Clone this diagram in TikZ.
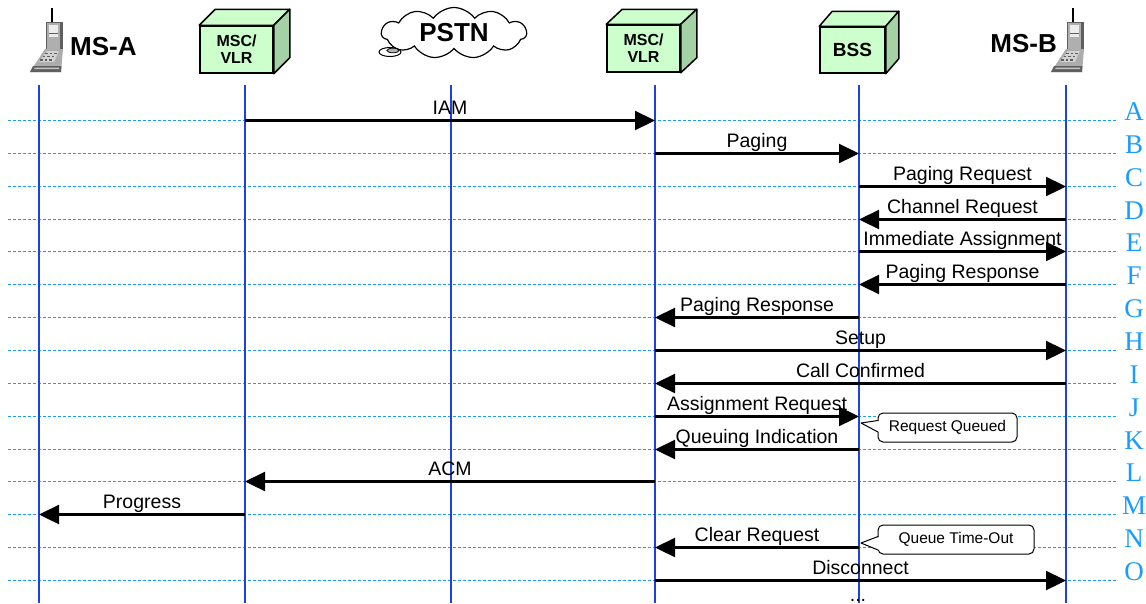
\documentclass[tikz,border=0pt]{standalone}
\usepackage{fontspec}
\setmainfont{Liberation Sans}
\newfontfamily\rowfont{Liberation Serif}
\usetikzlibrary{arrows.meta,shapes.symbols,calc}
\definecolor{lifeblue}{RGB}{30,65,225}
\definecolor{rowblue}{RGB}{25,155,255}
\definecolor{boxgreen}{RGB}{204,255,204}
\definecolor{sidegreen}{RGB}{165,210,165}
\definecolor{phonegray}{RGB}{175,175,175}
\definecolor{phonedark}{RGB}{95,95,95}
\newcommand\cubefaces[3]{%
  \draw[line width=1.5pt, line join=round, fill=boxgreen] (#1.north west) -- ++(#2,-#3) -- ($(#1.north east)+(#2,-#3)$) -- (#1.north east) -- cycle;
  \draw[line width=1.5pt, line join=round, fill=sidegreen] (#1.north east) -- ++(#2,-#3) -- ($(#1.south east)+(#2,-#3)$) -- (#1.south east) -- cycle;}
\tikzset{
  phone/.pic={
    \draw[line width=1.8pt] (7,0) -- (7,14);
    \fill[phonegray] (1,14) rectangle (17,41);
    \draw[phonedark, line width=1pt] (1,14) rectangle (17,41);
    \fill[gray!15] (4,17) rectangle (13,29);
    \fill[phonedark] (4,24.5) rectangle (13,26);
    \fill[phonedark] (15,15) rectangle (17,41);
    \fill[gray!65] (0,41) -- (18,41) -- (16,64) -- (-15,64) -- cycle;
    \fill[gray!35] (2,43) -- (14,43) -- (9,54) -- (-6,54) -- cycle;
    \foreach \k in {0,1,2} {
      \foreach \m in {0,1,2} {\fill[phonedark] ($(0,44.5)+(-2.5*\k,3.3*\k)+(4.5*\m,0)$) rectangle ++(2.5,1.5);}}
    \fill[phonedark] (-12,58) -- (16.5,58) -- (16,64) -- (-15,64) -- cycle;
    \fill[gray!45] (-10,59.5) -- (14,59.5) -- (14,61) -- (-11,61) -- cycle;
  }
}
\begin{document}
\begin{tikzpicture}[x=1pt,y=-1pt,
  lifeline/.style={lifeblue, line width=2pt},
  rowline/.style={rowblue, line width=1pt, dash pattern=on 3pt off 2pt},
  msg/.style={black, line width=2.3pt, -{Triangle[length=20pt,width=19pt]}},
  msglabel/.style={font=\fontsize{19.5}{22}\selectfont, anchor=base, inner sep=0pt, yshift=6.5pt},
  rowletter/.style={font=\rowfont\fontsize{27}{30}\selectfont, text=rowblue, anchor=base, inner sep=0pt},
  cubebox/.style={draw=black, line width=1.5pt, fill=boxgreen, inner sep=0pt, align=center},
  headtext/.style={font=\bfseries\fontsize{26}{28}\selectfont, inner sep=0pt},
  note/.style={draw=black, line width=1pt, fill=white, rounded corners=5pt, inner sep=0pt, font=\fontsize{15.5}{17}\selectfont},
]
\useasboundingbox (0,0) rectangle (1146,603);

% header entities
\pic at (45,8) {phone};
\node[headtext, anchor=base west] (msa) at (70,55) {MS-A};
\node[cubebox, minimum width=73, minimum height=47, font=\bfseries\fontsize{16}{17}\selectfont] (msc1) at (236.5,49.5) {MSC/\\VLR};
\cubefaces{msc1}{16}{16}
\node[cloud, cloud puffs=11, cloud puff arc=110, aspect=2.8, draw, line width=1.2pt, fill=white,
      minimum width=145, minimum height=51, inner sep=0pt, font=\bfseries\fontsize{26}{28}\selectfont] (pstn) at (454,33) {PSTN};
\draw[line width=1pt, fill=white] (390,52) ellipse [x radius=11, y radius=4.5];
\draw[line width=0.8pt, fill=gray!60] (393,50.5) ellipse [x radius=6, y radius=2.3];
\node[cubebox, minimum width=73, minimum height=47, font=\bfseries\fontsize{16}{17}\selectfont] (msc2) at (643.5,48.5) {MSC/\\VLR};
\cubefaces{msc2}{16}{15}
\node[cubebox, minimum width=65, minimum height=46, font=\bfseries\fontsize{19}{21}\selectfont] (bss) at (852.5,50) {BSS};
\cubefaces{bss}{13}{15}
\node[headtext, anchor=base east] (msb) at (1057,52) {MS-B};
\pic at (1066,8) {phone};

% lifeline coordinates
\coordinate (lA) at (39,85);
\coordinate (lM1) at (245,85);
\coordinate (lP) at (451,85);
\coordinate (lM2) at (655,85);
\coordinate (lB) at (859,85);
\coordinate (lMB) at (1066,85);

% rows
\foreach \r [count=\i from 0] in {A,B,C,D,E,F,G,H,I,J,K,L,M,N,O} {
  \pgfmathsetmacro\yy{round(120+32.857*\i)+0.5}
  \coordinate (r\r) at (0,\yy);
  \draw[rowline] (8,\yy) -- (1117,\yy);
  \node[rowletter] (let\r) at (1134,\yy) {\r};
}

% lifelines
\foreach \l in {lA,lM1,lP,lM2,lB,lMB} {\draw[lifeline] (\l) -- ++(0,518);}

% messages
\draw[msg] (lM1 |- rA) -- node[msglabel] {IAM} (lM2 |- rA);
\draw[msg] (lM2 |- rB) -- node[msglabel] {Paging} (lB |- rB);
\draw[msg] (lB |- rC) -- node[msglabel] {Paging Request} (lMB |- rC);
\draw[msg] (lMB |- rD) -- node[msglabel] {Channel Request} (lB |- rD);
\draw[msg] (lB |- rE) -- node[msglabel] {Immediate Assignment} (lMB |- rE);
\draw[msg] (lMB |- rF) -- node[msglabel] {Paging Response} (lB |- rF);
\draw[msg] (lB |- rG) -- node[msglabel] {Paging Response} (lM2 |- rG);
\draw[msg] (lM2 |- rH) -- node[msglabel] {Setup} (lMB |- rH);
\draw[msg] (lMB |- rI) -- node[msglabel] {Call Confirmed} (lM2 |- rI);
\draw[msg] (lM2 |- rJ) -- node[msglabel] {Assignment Request} (lB |- rJ);
\draw[msg] (lB |- rK) -- node[msglabel] {Queuing Indication} (lM2 |- rK);
\draw[msg] (lM2 |- rL) -- node[msglabel] {ACM} (lM1 |- rL);
\draw[msg] (lM1 |- rM) -- node[msglabel] {Progress} (lA |- rM);
\draw[msg] (lB |- rN) -- node[msglabel] {Clear Request} (lM2 |- rN);
\draw[msg] (lM2 |- rO) -- node[msglabel] {Disconnect} (lMB |- rO);
\node[font=\fontsize{19.5}{22}\selectfont, anchor=base, inner sep=0pt] (dots) at (858,601) {...};

% notes
\node[note, minimum width=139, minimum height=29] (rq) at (947.5,427.5) {Request Queued};
\fill[white] (879.2,421) -- (862,423) -- (879.2,432) -- cycle;
\draw[line width=1pt, line join=round] (878,420.5) -- (861,423) -- (878,432);
\node[note, minimum width=156, minimum height=29] (qt) at (956,539.5) {Queue Time-Out};
\fill[white] (879.2,537) -- (862,543) -- (879.2,550) -- cycle;
\draw[line width=1pt, line join=round] (878,536.5) -- (861,543) -- (878,550);
\end{tikzpicture}
\end{document}
